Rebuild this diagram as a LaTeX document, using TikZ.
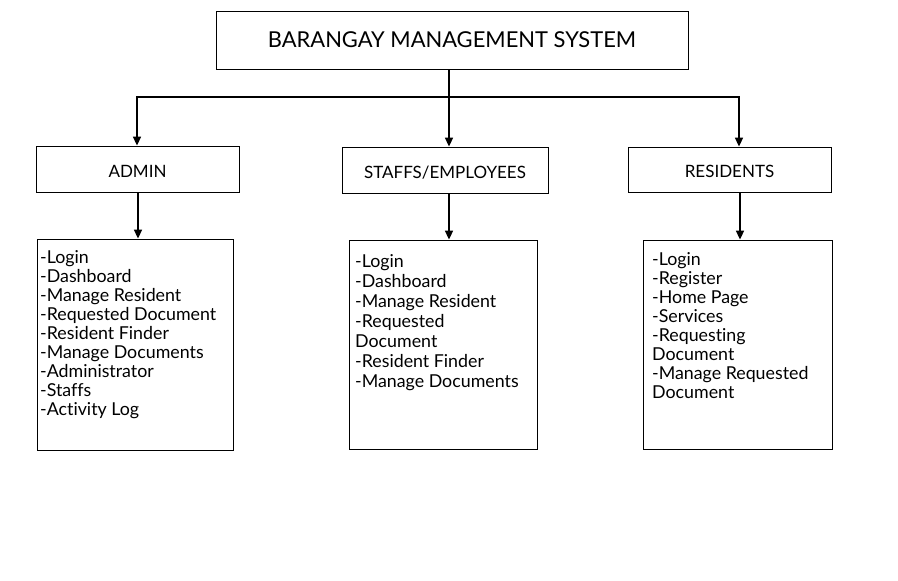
\documentclass[tikz,border=0pt]{standalone}
\usepackage{fontspec}
\setmainfont{Lato}[Ligatures=NoCommon]
\usetikzlibrary{arrows.meta}
\tikzset{
  box/.style={draw, line width=0.8pt, inner sep=0pt},
  role/.style={box, minimum height=46pt, text height=16pt, text depth=0pt, font=\fontsize{17}{20}\selectfont},
  list/.style={anchor=north west, align=left, inner sep=0pt, font=\fontsize{17.8}{19}\selectfont},
  link/.style={line width=1.6pt, -{Triangle[length=9pt,width=8pt]}},
}
\begin{document}
\begin{tikzpicture}[x=1pt, y=-1pt]
\useasboundingbox (0,0) rectangle (898,581);
% top of the tree
\node[box, minimum width=472pt, minimum height=58pt, font=\fontsize{21.9}{26}\selectfont] (sys) at (452,40) {BARANGAY MANAGEMENT SYSTEM};
% user roles
\node[role, minimum width=203pt] (admin) at (137.5,169) {ADMIN};
\node[role, minimum width=206pt] (staff) at (445,170) {STAFFS/EMPLOYEES};
\node[role, minimum width=203pt, minimum height=45pt] (res) at (729.5,169.5) {RESIDENTS};
% modules
\node[box, minimum width=196pt, minimum height=211pt] (adminbox) at (135,344.5) {};
\node[box, minimum width=188pt, minimum height=209pt] (staffbox) at (443,344.5) {};
\node[box, minimum width=189pt, minimum height=209pt] (resbox) at (737.5,344.5) {};
\node[list] (adminlist) at (40,250.5) {-Login\\-Dashboard\\-Manage Resident\\-Requested Document\\-Resident Finder\\-Manage Documents\\-Administrator\\-Staffs\\-Activity Log};
\node[list, font=\fontsize{17.8}{20}\selectfont] (stafflist) at (355,254.5) {-Login\\-Dashboard\\-Manage Resident\\-Requested\\Document\\-Resident Finder\\-Manage Documents};
\node[list] (reslist) at (652,252.5) {-Login\\-Register\\-Home Page\\-Services\\-Requesting\\Document\\-Manage Requested\\Document};
% connectors
\coordinate (bus) at (449,97);
\draw[line width=1.6pt] (sys.south -| bus) -- (bus);
\draw[link] (bus) -| (admin.north -| 137,0);
\draw[link] (bus) -- (staff.north -| bus);
\draw[link] (bus) -| (res.north -| 739,0);
\draw[link] (admin.south -| 138,0) -- (adminbox.north -| 138,0);
\draw[link] (staff.south -| 449,0) -- (staffbox.north -| 449,0);
\draw[link] (res.south -| 740,0) -- (resbox.north -| 740,0);
\end{tikzpicture}
\end{document}
